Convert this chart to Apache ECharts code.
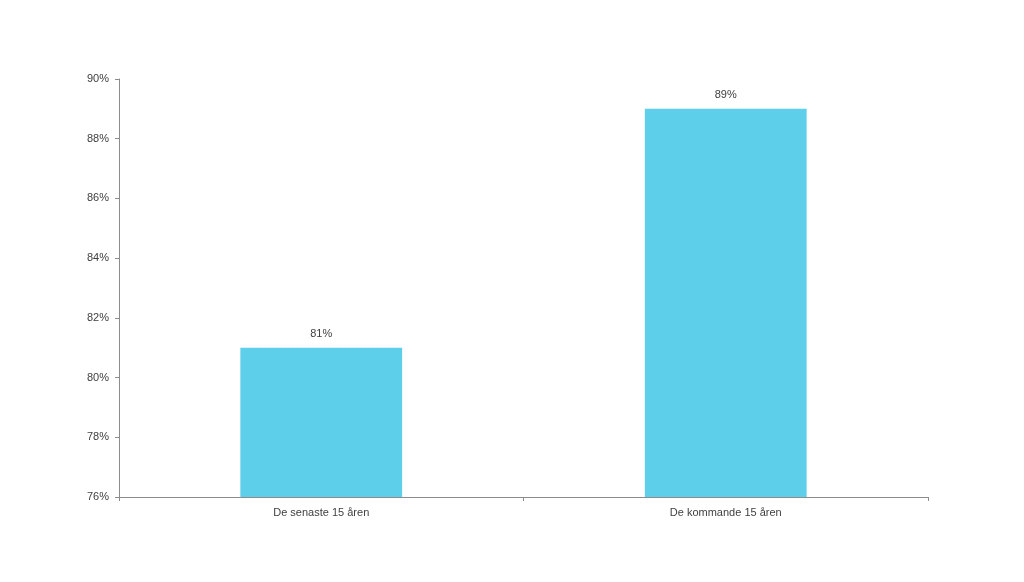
<!DOCTYPE html>
<html>
<head>
<meta charset="utf-8">
<script src="https://cdn.jsdelivr.net/npm/echarts@6/dist/echarts.min.js"></script>
<style>
  html, body { margin: 0; padding: 0; background: #fff; }
  #chart { width: 1024px; height: 582px; }
</style>
</head>
<body>
<div id="chart"></div>
<script>
// data
var categories = ['De senaste 15 åren', 'De kommande 15 åren'];
var values = [81, 89];
var yMin = 76, yMax = 90, yStep = 2;

var myChart = echarts.init(document.getElementById('chart'));

var option = {
    animation: false,
    textStyle: { fontFamily: 'Liberation Sans, Arial, sans-serif' },
    grid: { left: 119, right: 96, top: 79, bottom: 85, containLabel: false },
    xAxis: {
        type: 'category',
        data: categories,
        axisLine: { lineStyle: { color: '#8c8c8c', width: 1 } },
        axisTick: { show: true, length: 4, lineStyle: { color: '#8c8c8c' } },
        axisLabel: { color: '#404040', fontSize: 11, margin: 10 }
    },
    yAxis: {
        type: 'value',
        min: yMin,
        max: yMax,
        interval: yStep,
        axisLine: { show: true, lineStyle: { color: '#8c8c8c', width: 1 } },
        axisTick: { show: true, length: 4, lineStyle: { color: '#8c8c8c' } },
        splitLine: { show: false },
        axisLabel: {
            color: '#404040',
            fontSize: 11,
            margin: 10,
            formatter: function (v) { return v + '%'; }
        }
    },
    series: [{
        type: 'bar',
        data: values,
        barWidth: '40%',
        itemStyle: { color: '#5ecfea' },
        label: {
            show: true,
            position: 'top',
            distance: 8,
            color: '#404040',
            fontSize: 11,
            formatter: function (p) { return p.value + '%'; }
        }
    }]
};

myChart.setOption(option, true);
</script>
</body>
</html>
